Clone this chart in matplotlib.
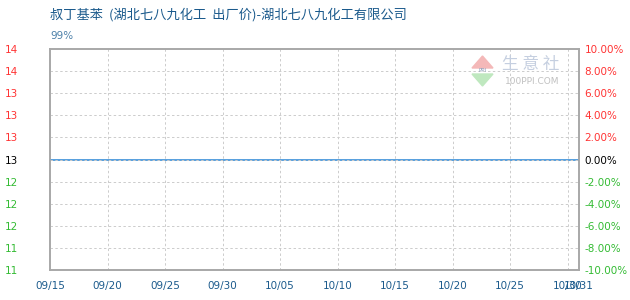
import matplotlib
matplotlib.use('Agg')
import matplotlib.pyplot as plt
from matplotlib.patches import Polygon
import datetime as dt

plt.rcParams['font.family'] = ['Noto Sans CJK SC', 'DejaVu Sans']

title = '叔丁基苯  (湖北七八九化工  出厂价)-湖北七八九化工有限公司'
subtitle = '99%'

# price series (flat over the period)
dates = ['2024-09-15', '2024-09-22', '2024-09-29', '2024-10-06', '2024-10-13',
         '2024-10-20', '2024-10-27', '2024-10-31']
prices = [12.6, 12.6, 12.6, 12.6, 12.6, 12.6, 12.6, 12.6]
base_price = 12.6

left_labels = ['11', '11', '12', '12', '12', '13', '13', '13', '13', '14', '14']
pct_ticks = [-10, -8, -6, -4, -2, 0, 2, 4, 6, 8, 10]
x_labels = ['09/15', '09/20', '09/25', '09/30', '10/05', '10/10', '10/15',
            '10/20', '10/25', '10/30', '10/31']
x_label_dates = ['2024-09-15', '2024-09-20', '2024-09-25', '2024-09-30', '2024-10-05',
                 '2024-10-10', '2024-10-15', '2024-10-20', '2024-10-25', '2024-10-30',
                 '2024-10-31']

red = '#ff3333'
green = '#33bb33'
blue_txt = '#1b5a8c'
grid_c = '#cccccc'
spine_c = '#a8a8a8'

def tick_color(v):
    if v > 0:
        return red
    if v < 0:
        return green
    return 'black'

d = [dt.datetime.strptime(s, '%Y-%m-%d') for s in dates]
xd = [dt.datetime.strptime(s, '%Y-%m-%d') for s in x_label_dates]

fig = plt.figure(figsize=(6.3, 3.0), dpi=100)
ax = fig.add_axes([50 / 630, 30 / 300, 529 / 630, 221 / 300])
ax2 = ax.twinx()

ax.plot(d, prices, color='#3a8fd8', lw=1.2, zorder=5)
ax.set_xlim(xd[0], xd[-1])
ax.set_ylim(base_price * 0.9, base_price * 1.1)
ax2.set_ylim(-10, 10)

price_ticks = [base_price * (1 + p / 100) for p in pct_ticks]
ax.set_yticks(price_ticks)
ax.set_yticklabels(left_labels, fontsize=7.5, family='DejaVu Sans')
for lab, p in zip(ax.get_yticklabels(), pct_ticks):
    lab.set_color(tick_color(p))

ax2.set_yticks(pct_ticks)
ax2.set_yticklabels(['%.2f%%' % p for p in pct_ticks], fontsize=7.5, family='DejaVu Sans')
for lab, p in zip(ax2.get_yticklabels(), pct_ticks):
    lab.set_color(tick_color(p))

ax.set_xticks(xd)
ax.set_xticklabels(x_labels, fontsize=7.5, family='DejaVu Sans', color=blue_txt)

ax.tick_params(axis='y', length=0, pad=32.5)
for lab in ax.get_yticklabels():
    lab.set_horizontalalignment('left')
ax2.tick_params(axis='y', length=0, pad=4)
ax.tick_params(axis='x', length=0, pad=8)

# grid
for p in pct_ticks[1:-1]:
    ax2.axhline(p, color=grid_c, lw=0.7, ls=(0, (2.5, 2.5)), zorder=0)
for x in xd[1:-1]:
    ax.axvline(x, color=grid_c, lw=0.7, ls=(0, (2.5, 2.5)), zorder=0)

for a in (ax, ax2):
    for s in a.spines.values():
        s.set_color(spine_c)
        s.set_linewidth(1.2)

fig.text(50 / 630, 1 - 15 / 300, title, fontsize=9.5, color=blue_txt, va='center')
fig.text(50 / 630, 1 - 36 / 300, subtitle, fontsize=7.5, color='#4a7fa8', va='center',
         family='DejaVu Sans')

# watermark
fig.patches.append(Polygon([[472 / 630, 1 - 68 / 300], [493 / 630, 1 - 68 / 300],
                            [482.5 / 630, 1 - 56 / 300]], closed=True,
                           transform=fig.transFigure, color='#f4b8b8', zorder=10))
fig.patches.append(Polygon([[472 / 630, 1 - 74 / 300], [493 / 630, 1 - 74 / 300],
                            [482.5 / 630, 1 - 86 / 300]], closed=True,
                           transform=fig.transFigure, color='#bfe8bf', zorder=10))
fig.text(482.5 / 630, 1 - 71 / 300, 'PPI', fontsize=4, color='#8a9cb8', ha='center',
         va='center', family='DejaVu Sans', zorder=11)
fig.text(531 / 630, 1 - 64 / 300, '生 意 社', fontsize=12, color='#c5cfe0', ha='center',
         va='center', zorder=11)
fig.text(532 / 630, 1 - 81 / 300, '100PPI.COM', fontsize=6.5, color='#c0c0c0', ha='center',
         va='center', family='DejaVu Sans', zorder=11)

fig.savefig('out.png', dpi=100)
